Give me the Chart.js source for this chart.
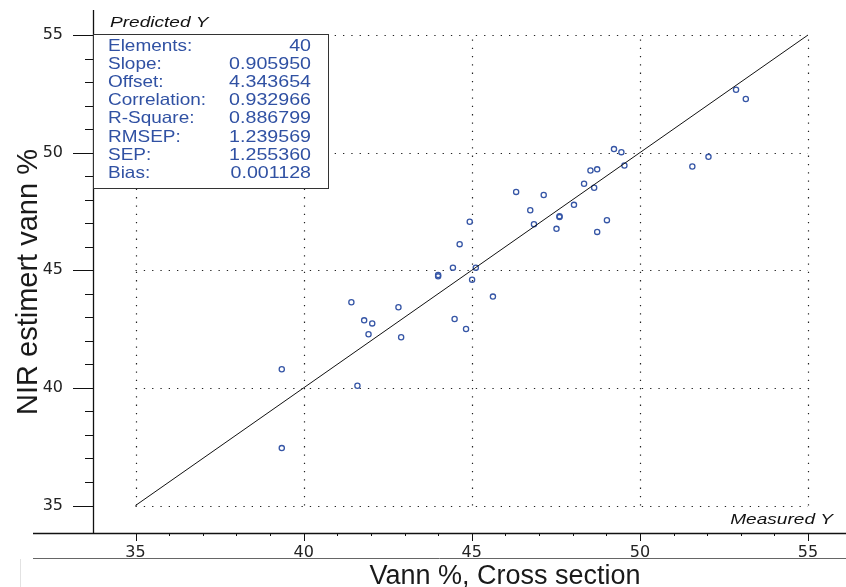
<!DOCTYPE html>
<html><head><meta charset="utf-8">
<script src="https://cdn.jsdelivr.net/npm/chart.js@4/dist/chart.umd.min.js"></script>
<style>html,body{margin:0;padding:0;background:#fff;overflow:hidden}canvas{display:block}</style>
</head><body>
<canvas id="c" width="846" height="587"></canvas>
<script>
const measured = [39.35,39.35,41.42,41.80,42.04,41.93,41.60,42.82,42.90,44.00,44.00,44.44,44.49,44.83,45.01,45.12,44.64,44.94,45.63,46.32,46.74,46.85,47.14,47.52,47.61,47.61,48.04,48.34,48.64,48.53,48.73,48.73,49.02,49.23,49.45,49.54,51.56,52.04,52.86,53.15];
const predicted = [40.79,37.44,43.64,42.87,42.74,42.28,40.09,43.43,42.15,44.80,44.74,45.11,42.93,42.50,44.60,45.11,46.11,47.06,43.88,48.33,47.55,46.96,48.20,46.76,47.30,47.26,47.78,48.68,48.51,49.24,49.29,46.63,47.13,50.15,50.02,49.45,49.41,49.82,52.67,52.28];
const targetX = [35, 55];
const targetY = [35, 55];
const tickValues = [35,36,37,38,39,40,41,42,43,44,45,46,47,48,49,50,51,52,53,54,55];
const labelValues = [35,40,45,50,55];
const statLabels = ['Elements:','Slope:','Offset:','Correlation:','R-Square:','RMSEP:','SEP:','Bias:'];
const statValues = ['40','0.905950','4.343654','0.932966','0.886799','1.239569','1.255360','0.001128'];
const xTitle = 'Vann %, Cross section';
const yTitle = 'NIR estimert vann %';
const boxTitle = 'Predicted Y';
const cornerLabel = 'Measured Y';

// where the 35 and 55 grid lines sit in the picture
const X35 = 135.5, X55 = 808, Y35 = 505.5, Y55 = 35;

function stretchText(ctx, txt, x, y, align, sx) {
  ctx.save();
  ctx.translate(x, y);
  ctx.scale(sx, 1);
  ctx.textAlign = align;
  ctx.fillText(txt, 0, 0);
  ctx.restore();
}

function zeroPad(s) { s.paddingTop = 0; s.paddingBottom = 0; s.paddingLeft = 0; s.paddingRight = 0; }

const decor = {
  id: 'decor',
  beforeDatasetsDraw(chart) {
    const ctx = chart.ctx, xs = chart.scales.x, ys = chart.scales.y, ca = chart.chartArea;
    ctx.save();
    ctx.strokeStyle = '#222';
    ctx.lineWidth = 1.2;
    ctx.setLineDash([1.3, 7]);
    const xl = xs.getPixelForValue(35), xr = xs.getPixelForValue(55);
    const yb = ys.getPixelForValue(35), yt = ys.getPixelForValue(55);
    labelValues.forEach(v => {
      const px = Math.round(xs.getPixelForValue(v)) + 0.5;
      ctx.beginPath(); ctx.moveTo(px, yb); ctx.lineTo(px, yt); ctx.stroke();
      const py = Math.round(ys.getPixelForValue(v)) + 0.5;
      ctx.beginPath(); ctx.moveTo(xl, py); ctx.lineTo(xr, py); ctx.stroke();
    });
    ctx.setLineDash([]);
    ctx.strokeStyle = '#111';
    ctx.lineWidth = 1.3;
    ctx.beginPath(); ctx.moveTo(ca.left + 0.5, ca.top); ctx.lineTo(ca.left + 0.5, ca.bottom); ctx.stroke();
    ctx.beginPath(); ctx.moveTo(33, ca.bottom + 0.5); ctx.lineTo(846, ca.bottom + 0.5); ctx.stroke();
    ctx.lineWidth = 1;
    tickValues.forEach(v => {
      const major = labelValues.includes(v);
      const px = Math.round(xs.getPixelForValue(v)) + 0.5;
      ctx.beginPath(); ctx.moveTo(px, ca.bottom); ctx.lineTo(px, ca.bottom + (major ? 8 : 3)); ctx.stroke();
      const py = Math.round(ys.getPixelForValue(v)) + 0.5;
      ctx.beginPath(); ctx.moveTo(ca.left - (major ? 20 : 8), py); ctx.lineTo(ca.left, py); ctx.stroke();
    });
    ctx.strokeStyle = '#666';
    ctx.beginPath(); ctx.moveTo(33, 558.5); ctx.lineTo(846, 558.5); ctx.stroke();
    ctx.strokeStyle = '#e2e2e2';
    ctx.beginPath(); ctx.moveTo(20.5, 559); ctx.lineTo(20.5, 587); ctx.stroke();
    ctx.restore();
  },
  afterDraw(chart) {
    const ctx = chart.ctx;
    ctx.save();
    ctx.fillStyle = '#fff';
    ctx.fillRect(94, 35, 235, 154);
    ctx.strokeStyle = '#333';
    ctx.lineWidth = 1;
    ctx.strokeRect(93.5, 34.5, 235, 154);
    ctx.fillStyle = '#3051a3';
    ctx.font = '16.5px "Liberation Sans", Arial, sans-serif';
    ctx.textBaseline = 'middle';
    statLabels.forEach((l, i) => {
      const y = 46.5 + i * 18.1;
      stretchText(ctx, l, 108, y, 'left', 1.15);
      stretchText(ctx, statValues[i], 311, y, 'right', 1.19);
    });
    ctx.fillStyle = '#111';
    ctx.font = 'italic 15.5px "Liberation Sans", Arial, sans-serif';
    stretchText(ctx, boxTitle, 110, 23, 'left', 1.23);
    stretchText(ctx, cornerLabel, 833, 520, 'right', 1.23);
    ctx.fillStyle = '#1a1a1a';
    ctx.textAlign = 'center';
    ctx.textBaseline = 'alphabetic';
    ctx.font = '27px "Liberation Sans", Arial, sans-serif';
    ctx.fillText(xTitle, 505, 584);
    ctx.font = '29px "Liberation Sans", Arial, sans-serif';
    ctx.save();
    ctx.translate(37, 282);
    ctx.rotate(-Math.PI / 2);
    ctx.fillText(yTitle, 0, 0);
    ctx.restore();
    ctx.restore();
  }
};

const chart = new Chart(document.getElementById('c'), {
  type: 'scatter',
  data: {
    datasets: [
      {
        type: 'line',
        data: targetX.map((x, i) => ({x, y: targetY[i]})),
        borderColor: '#111',
        borderWidth: 1,
        pointRadius: 0,
        fill: false
      },
      {
        data: measured.map((x, i) => ({x, y: predicted[i]})),
        backgroundColor: 'rgba(0,0,0,0)',
        borderColor: '#3656a6',
        borderWidth: 1.3,
        pointRadius: 2.6,
        pointStyle: 'circle'
      }
    ]
  },
  options: {
    responsive: false,
    animation: false,
    devicePixelRatio: 1,
    layout: {padding: {top: 10, right: 0, left: 0, bottom: 0}},
    plugins: {legend: {display: false}, tooltip: {enabled: false}},
    scales: {
      x: {
        type: 'linear',
        min: 33.736, max: 56.13,
        afterBuildTicks: s => { s.ticks = tickValues.map(v => ({value: v})); },
        afterFit: s => { s.height = 54; zeroPad(s); },
        border: {display: false},
        grid: {drawOnChartArea: false, drawTicks: true, tickLength: 8, tickColor: 'rgba(0,0,0,0)'},
        ticks: {
          autoSkip: false, maxRotation: 0, padding: 2,
          color: '#222',
          font: {family: 'DejaVu Sans', size: 16},
          callback: v => labelValues.includes(v) ? String(v) : ''
        }
      },
      y: {
        type: 'linear',
        min: 33.831, max: 56.063,
        afterBuildTicks: s => { s.ticks = tickValues.map(v => ({value: v})); },
        afterFit: s => { s.width = 93; zeroPad(s); },
        border: {display: false},
        grid: {drawOnChartArea: false, drawTicks: true, tickLength: 20, tickColor: 'rgba(0,0,0,0)'},
        ticks: {
          autoSkip: false, padding: 10,
          color: '#222',
          font: {family: 'DejaVu Sans', size: 16},
          callback: v => labelValues.includes(v) ? String(v) : ''
        }
      }
    }
  },
  plugins: [decor]
});

// fit the value ranges to the actual plot area so 35..55 land where they do in the picture
(function fitRanges() {
  const ca = chart.chartArea;
  const ux = (X55 - X35) / 20;
  const uy = (Y35 - Y55) / 20;
  chart.options.scales.x.min = 35 - (X35 - ca.left) / ux;
  chart.options.scales.x.max = 55 + (ca.right - X55) / ux;
  chart.options.scales.y.min = 35 - (ca.bottom - Y35) / uy;
  chart.options.scales.y.max = 55 + (Y55 - ca.top) / uy;
  chart.update();
})();
</script>
</body></html>
